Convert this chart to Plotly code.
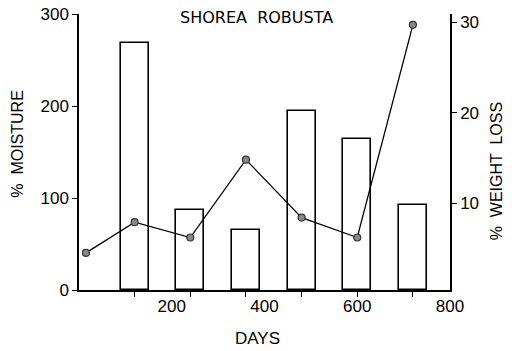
import plotly.graph_objects as go

# Data
bar_days = [120, 240, 360, 480, 600, 720]
moisture = [268, 87, 65, 195, 164, 92]
line_days = [15, 120, 240, 360, 480, 600, 720]
weight_loss = [4.5, 7.9, 6.2, 14.8, 8.4, 6.2, 29.7]
x_tick_vals = [200, 400, 600, 800]
x_tick_text = ["200", "400", "600", "800"]
minor_tick_vals = [120, 240, 360, 480, 600, 720]
y_tick_vals = [0, 100, 200, 300]
y2_tick_vals = [10, 20, 30]

FONT = "Liberation Sans"

fig = go.Figure()
fig.add_trace(go.Bar(
    x=bar_days, y=moisture, width=60,
    marker=dict(color="white", line=dict(color="black", width=1.6)),
    yaxis="y", showlegend=False))
fig.add_trace(go.Scatter(
    x=line_days, y=weight_loss, mode="lines+markers",
    line=dict(color="black", width=1.3),
    marker=dict(size=7, color="#888888", line=dict(color="#333333", width=1.2)),
    yaxis="y2", showlegend=False))

fig.update_layout(
    width=512, height=351,
    margin=dict(l=79, r=62, t=14, b=61, autoexpand=False),
    paper_bgcolor="white", plot_bgcolor="white",
    font=dict(family=FONT, color="black", size=17),
    xaxis=dict(range=[0, 800], showline=True, linecolor="black", linewidth=1.5,
               showgrid=False, zeroline=False, automargin=False,
               tickmode="array", tickvals=x_tick_vals, ticktext=x_tick_text,
               ticks="", ticklen=0,
               minor=dict(tickmode="array", tickvals=minor_tick_vals,
                          ticks="outside", ticklen=5, tickcolor="black", tickwidth=1.3),
               tickfont=dict(size=17)),
    yaxis=dict(range=[0, 300], showline=True, linecolor="black", linewidth=1.5,
               showgrid=False, zeroline=False, automargin=False,
               tickmode="array", tickvals=y_tick_vals,
               ticks="outside", ticklen=5, tickcolor="black", tickwidth=1.3,
               ticklabeloverflow="allow",
               tickfont=dict(size=17)),
    yaxis2=dict(range=[0.4, 30.9], overlaying="y", side="right",
                showline=True, linecolor="black", linewidth=1.5,
                showgrid=False, zeroline=False, automargin=False,
                tickmode="array", tickvals=y2_tick_vals,
                ticks="outside", ticklen=5, tickcolor="black", tickwidth=1.3,
                ticklabeloverflow="allow",
                tickfont=dict(size=17)),
    bargap=0,
)

fig.add_annotation(text="SHOREA  ROBUSTA", xref="paper", yref="paper",
                   x=0.478, y=1.0, xanchor="center", yanchor="top",
                   yshift=8, showarrow=False,
                   font=dict(size=16, family="DejaVu Sans"))
fig.add_annotation(text="DAYS", xref="paper", yref="paper",
                   x=0.48, y=0, xanchor="center", yanchor="middle",
                   yshift=-48, showarrow=False, font=dict(size=17))
fig.add_annotation(text="%  MOISTURE", xref="paper", yref="paper",
                   x=0, y=0.53, xanchor="center", yanchor="middle",
                   xshift=-61, showarrow=False, textangle=-90, font=dict(size=16))
fig.add_annotation(text="%  WEIGHT  LOSS", xref="paper", yref="paper",
                   x=1, y=0.43, xanchor="center", yanchor="middle",
                   xshift=46, showarrow=False, textangle=-90, font=dict(size=16))

# remove the default 8px page margin so the figure sits at the window's corner
fig.write_html("out.html", config={"displayModeBar": False},
               post_script="document.body.style.margin='0';")
